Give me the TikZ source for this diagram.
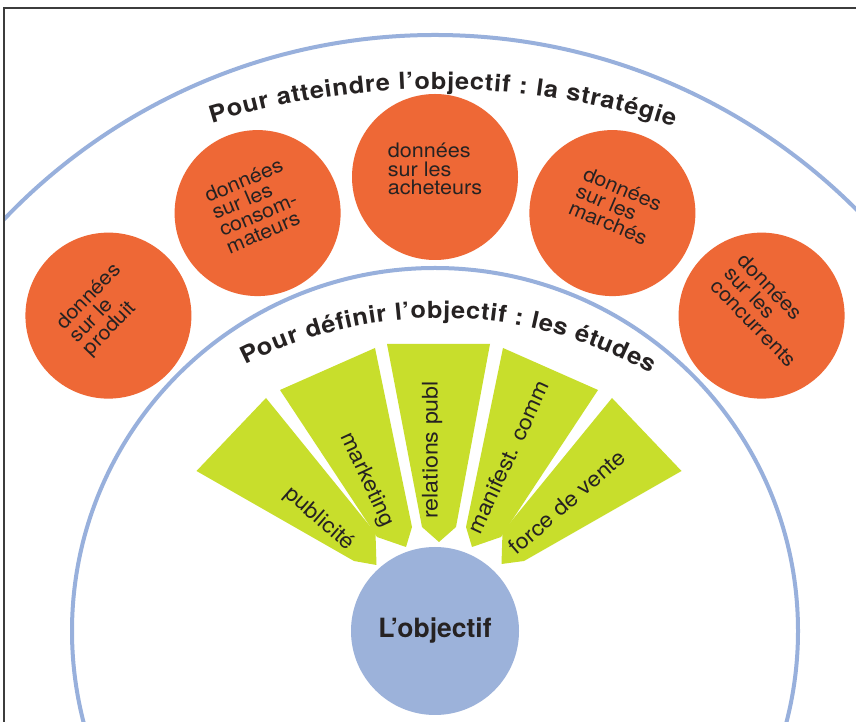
\documentclass[tikz,border=0pt]{standalone}
\usepackage{fontspec}
\setmainfont{TeX Gyre Heros}
\newfontfamily\widesans[FakeStretch=1.08]{TeX Gyre Heros}
\usetikzlibrary{decorations.text}

\definecolor{ringblue}{RGB}{152,176,220}
\definecolor{objblue}{RGB}{156,178,218}
\definecolor{dataorange}{RGB}{238,104,54}
\definecolor{studygreen}{RGB}{200,222,44}
\definecolor{ink}{RGB}{38,34,34}
\definecolor{framegray}{RGB}{60,60,60}

\newcommand{\arctitlefont}{\widesans\bfseries\fontsize{23.5}{24}\selectfont}

\tikzset{
  ring/.style={draw=ringblue, line width=4pt},
  datacircle/.style={circle, fill=dataorange, minimum size=166pt, inner sep=0pt},
  datatext/.style={text=ink, align=left, inner sep=0pt,
    font=\widesans\fontsize{20}{18.5}\selectfont},
  studyshape/.style={fill=studygreen},
  studytext/.style={text=ink, inner sep=0pt,
    font=\widesans\fontsize{21.5}{22}\selectfont},
  goal/.style={circle, fill=objblue, minimum size=168pt, inner sep=0pt,
    text=ink, font=\bfseries\fontsize{26.5}{28}\selectfont},
  arctitle/.style={decorate, decoration={text along path,
    text align=fit to path, text color=ink, text={#1}}},
}

\begin{document}
\begin{tikzpicture}[x=1pt,y=1pt]
\useasboundingbox (0,0) rectangle (856,722);
\fill[white] (0,0) rectangle (856,722);

% common centre of the rings and the goal
\coordinate (C) at (435,91);
% centres of the two curved headings
\coordinate (T1) at (437,-128);
\coordinate (T2) at (440,-24);

% the two rings, cut at the frame
\begin{scope}
  \clip (4,0) rectangle (856,714);
  \draw[ring] (C) circle[radius=596];
  \draw[ring] (C) circle[radius=363];
\end{scope}

% frame
\draw[framegray, line width=1.5pt] (4,0) -- (4,714) -- (856,714);

% strategy: the five data circles
\foreach \n/\a/\txt in {
    1/136/{données\\sur le\\produit},
    2/113/{données\\sur les\\consom-\\mateurs},
    3/90/{données\\sur les\\acheteurs},
    4/67/{données\\sur les\\marchés},
    5/44/{données\\sur les\\concurrents}} {
  \node[datacircle] (d\n) at ([shift={(\a:454)}]C) {};
  \node[datatext, rotate=\a-90] (dt\n) at ([shift={(\a:462)}]C) {\txt};
}

% studies: the fan of five blades
\fill[studyshape] (196.5,251) -- (266,324) -- (375.5,189) -- (376.5,157) -- (354,161) -- cycle;
\fill[studyshape] (280,332) -- (375,374) -- (412,195) -- (406,175) -- (377,185) -- cycle;
\fill[studyshape] (387,378) -- (490,378) -- (456,195) -- (439,180) -- (422,195) -- cycle;
\fill[studyshape] (503,374) -- (598,332) -- (501,185) -- (472,175) -- (466,195) -- cycle;
\fill[studyshape] (612,324) -- (681.5,251) -- (524,161) -- (501.5,158) -- (502.5,190) -- cycle;

\node[studytext, rotate=-41] (s1) at (319,203) {publicité};
\node[studytext, rotate=-65] (s2) at (367,242) {marketing};
\node[studytext, rotate=90]  (s3) at (432,272) {relations publ};
\node[studytext, rotate=65]  (s4) at (508,265) {manifest. comm};
\node[studytext, rotate=41]  (s5) at (567,220) {force de vente};

% the goal
\node[goal] (goal) at (C) {L’objectif};

% curved headings
\path[arctitle={|\arctitlefont|Pour atteindre l’objectif : la stratégie}]
  ([shift={(107.2:761)}]T1) arc[start angle=107.2, end angle=71.9, radius=761];
\path[arctitle={|\arctitlefont|Pour définir l’objectif : les études}]
  ([shift={(117.1:428)}]T2) arc[start angle=117.1, end angle=60.5, radius=428];
\end{tikzpicture}
\end{document}
